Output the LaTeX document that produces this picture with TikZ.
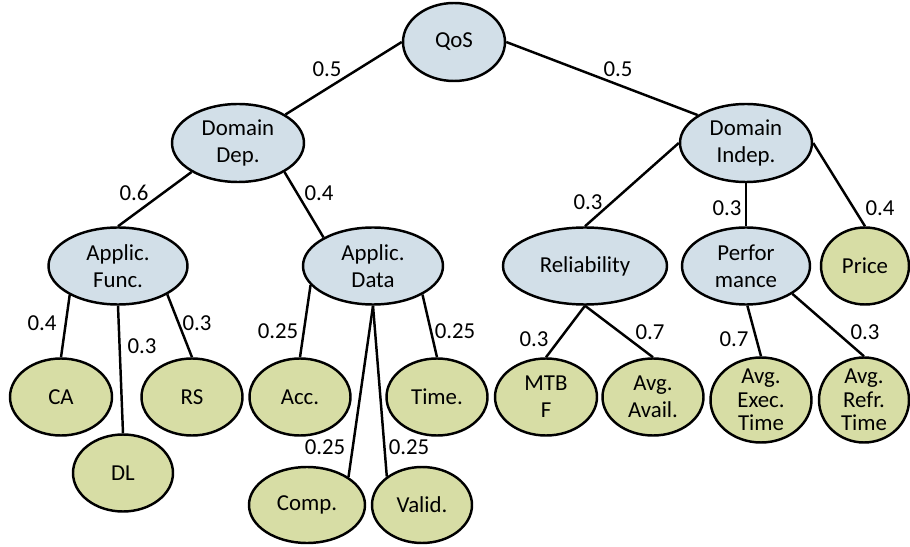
\documentclass[tikz,border=0pt]{standalone}
\usepackage{fontspec}
\setmainfont{Carlito}
\usepackage{xcolor}
\usetikzlibrary{shapes.geometric}

\definecolor{critblue}{RGB}{210,223,232}
\definecolor{leafgreen}{RGB}{215,221,165}

\begin{document}
\begin{tikzpicture}[x=0.02cm, y=-0.02cm,
    crit/.style={
        ellipse, draw, line width=1.4pt, inner xsep=0pt, inner ysep=-10pt,
        align=center, font=\fontsize{13}{15.5}\selectfont
    },
    inner/.style={fill=critblue},
    leaf/.style={fill=leafgreen},
    sz/.style 2 args={minimum width=#1*0.02cm, minimum height=#2*0.02cm},
    edge/.style={line width=1.4pt},
    wt/.style={font=\fontsize{13}{14}\selectfont, inner sep=0pt}
]
\useasboundingbox (0,0) rectangle (910,547);

% Root and domain level
\node[crit, inner, sz={102}{78}] (qos) at (454,42) {QoS};
\node[crit, inner, sz={132}{78}] (dd) at (238,143) {Domain\\Dep.};
\node[crit, inner, sz={132}{78}] (di) at (746,143) {Domain\\Indep.};

% Second level
\node[crit, inner, sz={139}{77}] (af) at (118,266) {Applic.\\Func.};
\node[crit, inner, sz={140}{77}] (ad) at (373,266) {Applic.\\Data};
\node[crit, inner, sz={164}{77}] (rel) at (585,266) {Reliability};
\node[crit, inner, sz={128}{77}] (perf) at (746,266) {Perfor\\mance};
\node[crit, leaf, sz={88}{77}] (price) at (865,266) {Price};

% Leaves
\node[crit, leaf, sz={102}{77}] (ca) at (61,397) {CA};
\node[crit, leaf, sz={100}{77}] (dl) at (123,473) {DL};
\node[crit, leaf, sz={101}{77}] (rs) at (192,397) {RS};
\node[crit, leaf, sz={101}{77}] (acc) at (300,397) {Acc.};
\node[crit, leaf, sz={101}{77}] (time) at (437,397) {Time.};
\node[crit, leaf, sz={116}{76}] (comp) at (307,505) {Comp.};
\node[crit, leaf, sz={100}{76}] (valid) at (422,505) {Valid.};
\node[crit, leaf, sz={102}{77}] (mtbf) at (546,397) {MTB\\F};
\node[crit, leaf, sz={101}{77}] (avail) at (653,397) {Avg.\\Avail.};
\node[crit, leaf, sz={101}{85}, font=\fontsize{13}{13.5}\selectfont] (exec) at (761,400) {Avg.\\Exec.\\Time};
\node[crit, leaf, sz={90}{85}, font=\fontsize{13}{13.5}\selectfont] (refr) at (864,400) {Avg.\\Refr.\\Time};

% Edges from the root
\draw[edge] (qos.west) -- (dd.31);
\draw[edge] (qos.east) -- (di.150);

% Domain dependent part
\draw[edge] (dd.212) -- (af.north);
\draw[edge] (dd.-32) -- (ad.150);
\draw[edge] (af.211) -- (ca.north);
\draw[edge] (af.south) -- (dl.north);
\draw[edge] (af.-30) -- (rs.north);
\draw[edge] (ad.197) -- (acc.north);
\draw[edge] (ad.south) -- (comp.34);
\draw[edge] (ad.south) -- (valid.141);
\draw[edge] (ad.-30) -- (time.north);

% Domain independent part
\draw[edge] (di.west) -- (rel.north);
\draw[edge] (di.south) -- (perf.north);
\draw[edge] (di.east) -- (price.north);
\draw[edge] (rel.south) -- (mtbf.north);
\draw[edge] (rel.south) -- (avail.north);
\draw[edge] (perf.-88) -- (exec.north);
\draw[edge] (perf.-31) -- (refr.north);

% Weights
\node[wt] (wdd) at (327,69) {0.5};
\node[wt] (wdi) at (618,69) {0.5};
\node[wt] (waf) at (134,193) {0.6};
\node[wt] (wad) at (319,193) {0.4};
\node[wt] (wrel) at (588,202) {0.3};
\node[wt] (wperf) at (727,208) {0.3};
\node[wt] (wprice) at (880,208) {0.4};
\node[wt] (wca) at (42,323) {0.4};
\node[wt] (wdl) at (142,346) {0.3};
\node[wt] (wrs) at (197,323) {0.3};
\node[wt] (wacc) at (278,331) {0.25};
\node[wt] (wtime) at (455,331) {0.25};
\node[wt] (wcomp) at (325,447) {0.25};
\node[wt] (wvalid) at (409,447) {0.25};
\node[wt] (wmtbf) at (534,339) {0.3};
\node[wt] (wavail) at (650,332) {0.7};
\node[wt] (wexec) at (734,339) {0.7};
\node[wt] (wrefr) at (865,332) {0.3};

\end{tikzpicture}
\end{document}
